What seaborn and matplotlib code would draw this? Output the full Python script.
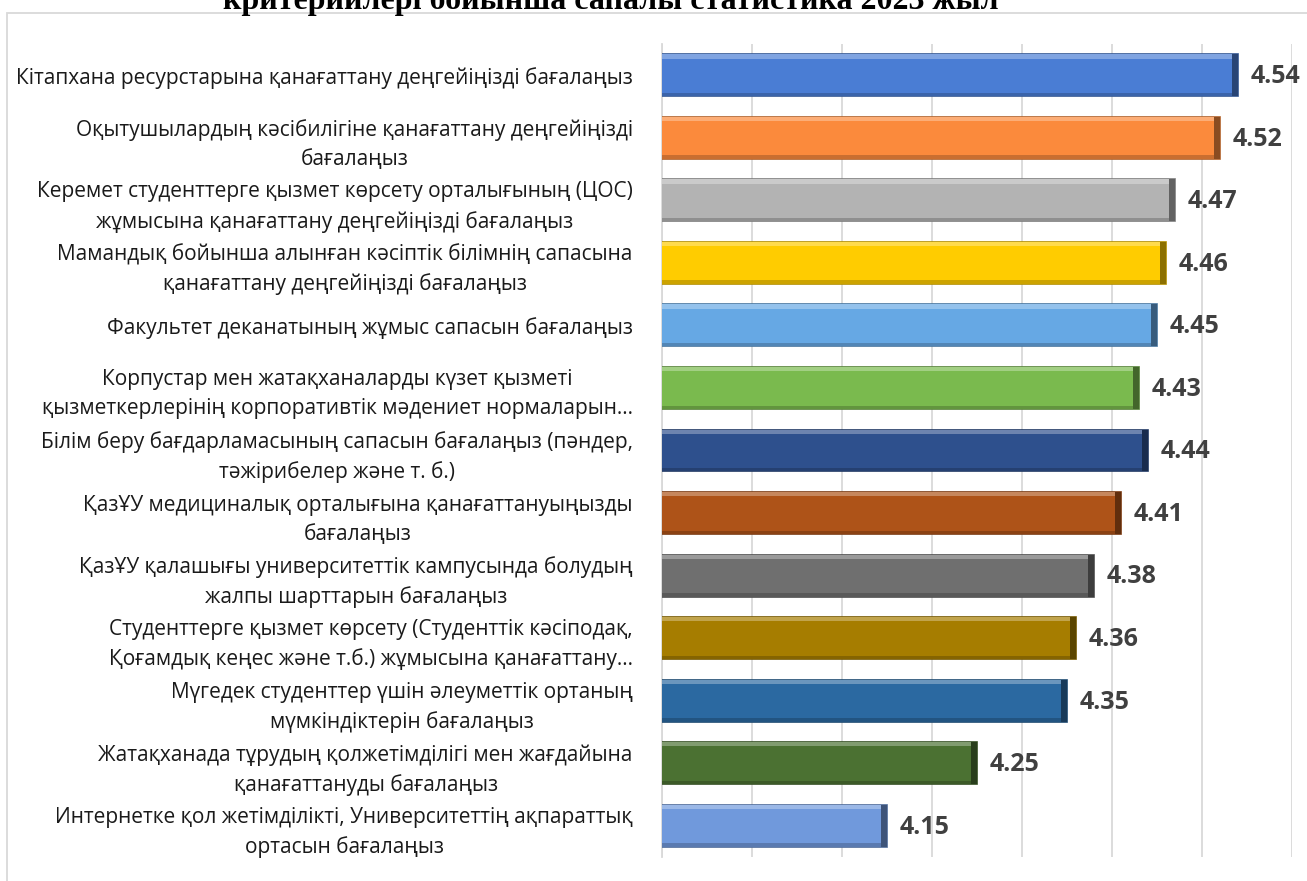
import numpy as np
import pandas as pd
import seaborn as sns
import matplotlib.pyplot as plt
import matplotlib.colors as mcolors
from matplotlib.patches import Rectangle

# Data
QUESTIONS = [
    "Кітапхана ресурстарына қанағаттану деңгейіңізді бағалаңыз",
    "Оқытушылардың кәсібилігіне қанағаттану деңгейіңізді\nбағалаңыз",
    "Керемет студенттерге қызмет көрсету орталығының (ЦОС)\nжұмысына қанағаттану деңгейіңізді бағалаңыз",
    "Мамандық бойынша алынған кәсіптік білімнің сапасына\nқанағаттану деңгейіңізді бағалаңыз",
    "Факультет деканатының жұмыс сапасын бағалаңыз",
    "Корпустар мен жатақханаларды күзет қызметі\nқызметкерлерінің корпоративтік мәдениет нормаларын…",
    "Білім беру бағдарламасының сапасын бағалаңыз (пәндер,\nтәжірибелер және т. б.)",
    "ҚазҰУ медициналық орталығына қанағаттануыңызды\nбағалаңыз",
    "ҚазҰУ қалашығы университеттік кампусында болудың\nжалпы шарттарын бағалаңыз",
    "Студенттерге қызмет көрсету (Студенттік кәсіподақ,\nҚоғамдық кеңес және т.б.) жұмысына қанағаттану…",
    "Мүгедек студенттер үшін әлеуметтік ортаның\nмүмкіндіктерін бағалаңыз",
    "Жатақханада тұрудың қолжетімділігі мен жағдайына\nқанағаттануды бағалаңыз",
    "Интернетке қол жетімділікті, Университеттің ақпараттық\nортасын бағалаңыз",
]
SCORES = [4.54, 4.52, 4.47, 4.46, 4.45, 4.43, 4.44, 4.41, 4.38, 4.36, 4.35, 4.25, 4.15]
BAR_COLORS = ['#4a7dd4', '#fb8a3c', '#b3b3b3', '#ffcc00', '#66a8e4', '#7aba4e', '#2e508d',
              '#ae5318', '#6f6f6f', '#a67d00', '#2b69a1', '#4b7132', '#7099dc']
TITLE = "критерийлері бойынша сапалы статистика 2023 жыл"

df = pd.DataFrame({"question": QUESTIONS, "score": SCORES})

sns.set_theme(style="white")
plt.rcParams['font.family'] = ['Open Sans', 'DejaVu Sans']

fig = plt.figure(figsize=(13.07, 8.81), dpi=100)
ax = fig.add_axes([662 / 1307, 1 - 857 / 881, (1292 - 662) / 1307, (857 - 44) / 881])

sns.barplot(data=df, x="score", y="question", hue="question", palette=BAR_COLORS,
            saturation=1, legend=False, orient="h", width=0.67, ax=ax, zorder=3)

ax.set_xlim(3.9, 4.6)
ax.set_xticks(np.arange(3.9, 4.61, 0.1))
ax.set_xticklabels([])
ax.tick_params(axis="both", length=0)
ax.grid(axis="x", color="#d9d9d9", linewidth=1.3, zorder=0)
ax.set_axisbelow(True)
for side in ["top", "right", "bottom"]:
    ax.spines[side].set_visible(False)
ax.spines["left"].set_color("#d9d9d9")
ax.spines["left"].set_linewidth(1.3)
ax.set_xlabel("")
ax.set_ylabel("")

# bevel look: darker edge + light strip on top + dark right end
for p, c in zip(ax.patches, BAR_COLORS):
    rgb = np.array(mcolors.to_rgb(c))
    dark = tuple(rgb * 0.55)
    light = tuple(rgb + (1 - rgb) * 0.3)
    p.set_edgecolor(tuple(rgb * 0.7))
    p.set_linewidth(1.2)
    x0, y0, w, h = p.get_x(), p.get_y(), p.get_width(), p.get_height()
    ax.add_patch(Rectangle((x0, y0), w, h * 0.1, facecolor=light, edgecolor="none", zorder=4))
    ax.add_patch(Rectangle((x0, y0 + h * 0.92), w, h * 0.08, facecolor=tuple(rgb * 0.8),
                           edgecolor="none", zorder=4))
    ax.add_patch(Rectangle((x0 + w - 0.007, y0), 0.007, h, facecolor=dark, edgecolor="none", zorder=4))

# y labels: right aligned block, centered lines
ax.set_yticks(range(len(QUESTIONS)))
ax.set_yticklabels(QUESTIONS, fontsize=15, color="#1a1a1a", linespacing=1.5,
                   ha="right", multialignment="center")
ax.tick_params(axis="y", pad=21)

# value labels
for i, v in enumerate(SCORES):
    ax.annotate(f"{v:.2f}", (v, i), xytext=(9, -1), textcoords="offset points",
                ha="left", va="center", fontsize=18, fontweight="bold", color="#404040")

# chart border and the title, cut off at the top as in the source image
fig.patches.append(Rectangle((7 / 1307, -0.05), 1.1, 1 - 12.5 / 881 + 0.05, transform=fig.transFigure,
                             facecolor="none", edgecolor="#d9d9d9", linewidth=1.3))
fig.text(611 / 1307, 1 - 9 / 881, TITLE, ha="center", va="baseline", fontsize=23,
         fontweight="bold", family=["Liberation Serif", "DejaVu Serif"], color="black")

fig.savefig("out.png", dpi=100)
